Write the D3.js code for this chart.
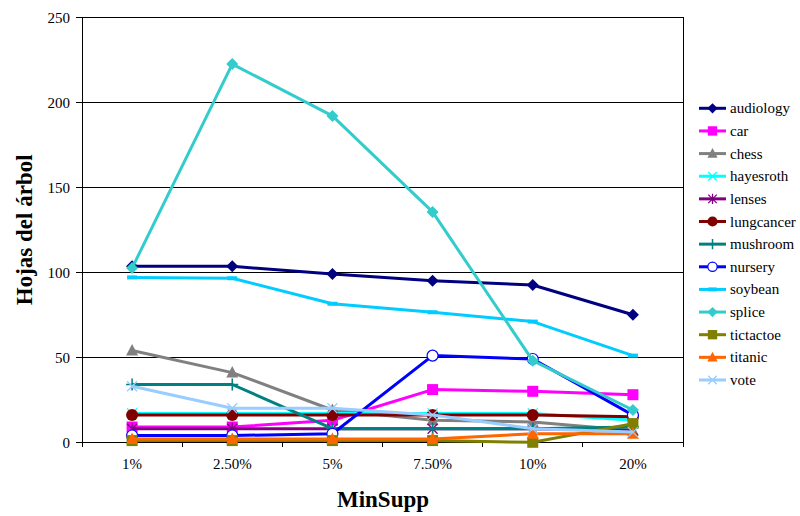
<!DOCTYPE html>
<html><head><meta charset="utf-8">
<script src="https://cdn.jsdelivr.net/npm/d3@7"></script>
<style>
html,body{margin:0;padding:0;background:#fff;}
svg{display:block;font-family:"Liberation Serif","Times New Roman",serif;}
</style></head>
<body><svg id="c" width="800" height="516"></svg>
<script>
const categories = ["1%","2.50%","5%","7.50%","10%","20%"];
const yTicks = [0,50,100,150,200,250];
const seriesNames = ["audiology","car","chess","hayesroth","lenses","lungcancer","mushroom","nursery","soybean","splice","tictactoe","titanic","vote"];
const audiology  = [103.5, 103.5, 99, 95, 92.5, 75];
const car        = [9, 9, 13, 31, 30, 28];
const chess      = [54, 41, 19, 13, 12, 7];
const hayesroth  = [17, 17, 17, 17, 17, 13];
const lenses     = [8, 8, 8, 8, 8, 7];
const lungcancer = [16, 16, 16, 16, 16, 15];
const mushroom   = [34, 34, 8, 8, 8, 9];
const nursery    = [4, 4, 5, 51, 49, 16];
const soybean    = [97, 96.5, 81.5, 76.5, 71, 51];
const splice     = [102.5, 222.5, 192, 135.5, 48, 19];
const tictactoe  = [1, 1, 1, 1, 0, 11];
const titanic    = [2, 2, 2, 2, 5, 5];
const vote       = [33, 20, 20, 16, 8, 6];
const seriesValues = [audiology,car,chess,hayesroth,lenses,lungcancer,mushroom,nursery,soybean,splice,tictactoe,titanic,vote];
const colors  = ["#000080","#FF00FF","#808080","#00FFFF","#800080","#800000","#008080","#0000FF","#00CCFF","#33CCCC","#808000","#FF6600","#99CCFF"];
const markers = ["diamond","square","triangle","x","star","circle","plus","ocircle","dash","diamond","square","triangle","x"];

const svg = d3.select("#c");
const L = 82, R = 683, T = 17.3, B = 442.3;
const x = d3.scaleBand().domain(categories).range([L, R]);
const cx = c => x(c) + x.bandwidth()/2;
const y = d3.scaleLinear().domain([0,250]).range([B, T]);

// gridlines
svg.append("g").selectAll("line").data(yTicks.filter(d=>d>0)).join("line")
  .attr("x1", L).attr("x2", R).attr("y1", d=>y(d)).attr("y2", d=>y(d))
  .attr("stroke", "#000").attr("stroke-width", 1).attr("shape-rendering","crispEdges");
// right border
svg.append("line").attr("x1",R).attr("x2",R).attr("y1",T).attr("y2",B+5)
  .attr("stroke","#000").attr("shape-rendering","crispEdges");

// y axis
const ya = svg.append("g").attr("transform",`translate(${L},0)`)
  .call(d3.axisLeft(y).tickValues(yTicks).tickSize(6).tickPadding(6));
ya.select(".domain").attr("stroke","#000").attr("shape-rendering","crispEdges");
ya.selectAll(".tick line").attr("stroke","#000").attr("shape-rendering","crispEdges");
ya.selectAll("text").attr("font-size",15).attr("fill","#000").attr("font-family","Liberation Serif");

// x axis
const xa = svg.append("g").attr("transform",`translate(0,${B})`)
  .call(d3.axisBottom(x).tickSize(0).tickPadding(16));
xa.select(".domain").attr("stroke","#000").attr("shape-rendering","crispEdges");
xa.selectAll("text").attr("font-size",15).attr("fill","#000").attr("font-family","Liberation Serif");
const bounds = categories.map(c=>x(c)).concat([R]);
svg.append("g").selectAll("line").data(bounds).join("line")
  .attr("x1",d=>d).attr("x2",d=>d).attr("y1",B).attr("y2",B+5)
  .attr("stroke","#000").attr("shape-rendering","crispEdges");

// axis titles
svg.append("text").attr("x", 383).attr("y", 507).attr("text-anchor","middle")
  .attr("font-size",23).attr("font-weight","bold").text("MinSupp");
svg.append("text").attr("transform",`translate(32,${(T+B)/2}) rotate(-90)`)
  .attr("text-anchor","middle").attr("font-size",23).attr("font-weight","bold").text("Hojas del árbol");

function drawMarker(g, type, color, px, py, scale=1) {
  const r = 6*scale;
  switch(type){
    case "diamond":
      g.append("path").attr("d",`M${px},${py-r}L${px+r},${py}L${px},${py+r}L${px-r},${py}Z`).attr("fill",color); break;
    case "square":
      g.append("rect").attr("x",px-5.5*scale).attr("y",py-5.5*scale).attr("width",11*scale).attr("height",11*scale).attr("fill",color); break;
    case "triangle":
      g.append("path").attr("d",`M${px},${py-6.5*scale}L${px+6*scale},${py+5*scale}L${px-6*scale},${py+5*scale}Z`).attr("fill",color); break;
    case "x":
      g.append("path").attr("d",`M${px-5*scale},${py-5*scale}L${px+5*scale},${py+5*scale}M${px+5*scale},${py-5*scale}L${px-5*scale},${py+5*scale}`).attr("stroke",color).attr("stroke-width",1.3).attr("fill","none"); break;
    case "star":
      g.append("path").attr("d",`M${px-5*scale},${py-5*scale}L${px+5*scale},${py+5*scale}M${px+5*scale},${py-5*scale}L${px-5*scale},${py+5*scale}M${px},${py-6*scale}L${px},${py+6*scale}`).attr("stroke",color).attr("stroke-width",1.3).attr("fill","none"); break;
    case "circle":
      g.append("circle").attr("cx",px).attr("cy",py).attr("r",6*scale).attr("fill",color); break;
    case "ocircle":
      g.append("circle").attr("cx",px).attr("cy",py).attr("r",5.5*scale).attr("fill","#fff").attr("stroke",color).attr("stroke-width",1.2); break;
    case "plus":
      g.append("path").attr("d",`M${px-6*scale},${py}L${px+6*scale},${py}M${px},${py-6*scale}L${px},${py+6*scale}`).attr("stroke",color).attr("stroke-width",1.5).attr("fill","none"); break;
    case "dash":
      g.append("path").attr("d",`M${px-5*scale},${py}L${px+5*scale},${py}`).attr("stroke",color).attr("stroke-width",4).attr("fill","none"); break;
  }
}

const line = d3.line().x((d,i)=>cx(categories[i])).y(d=>y(d));
seriesNames.forEach((name, si) => {
  const g = svg.append("g").attr("class","series");
  g.append("path").datum(seriesValues[si]).attr("d", line)
    .attr("fill","none").attr("stroke", colors[si]).attr("stroke-width",3).attr("stroke-linejoin","round");
  seriesValues[si].forEach((v,i)=> drawMarker(g, markers[si], colors[si], cx(categories[i]), y(v)));
});

// legend
const lg = svg.append("g");
seriesNames.forEach((name, si) => {
  const ly = 108.3 + si*22.64;
  lg.append("line").attr("x1",699).attr("x2",726).attr("y1",ly).attr("y2",ly)
    .attr("stroke",colors[si]).attr("stroke-width",3);
  drawMarker(lg, markers[si], colors[si], 712.5, ly, 0.85);
  lg.append("text").attr("x",730).attr("y",ly+5).attr("font-size",15).attr("fill","#000").text(name);
});
</script></body></html>
